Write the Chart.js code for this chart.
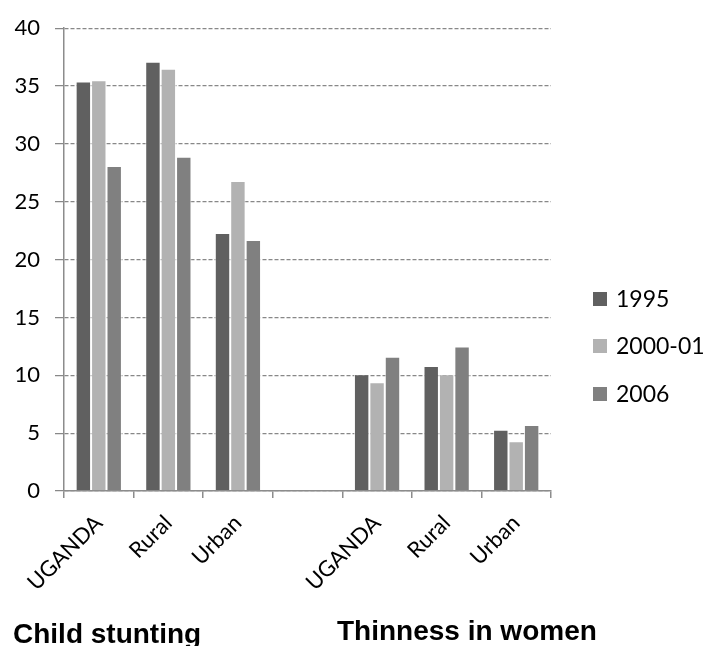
<!DOCTYPE html>
<html>
<head>
<meta charset="utf-8">
<script src="https://cdn.jsdelivr.net/npm/chart.js@4/dist/chart.umd.min.js"></script>
<style>
  html, body { margin: 0; padding: 0; background: #ffffff; }
  #wrap { width: 704px; height: 646px; }
</style>
</head>
<body>
<div id="wrap"><canvas id="chart" width="704" height="646"></canvas></div>
<script>
// Categories: two indicator groups separated by an empty slot
const categories = ['UGANDA', 'Rural', 'Urban', '', 'UGANDA', 'Rural', 'Urban'];
const seriesNames = ['1995', '2000-01', '2006'];
const values1995 = [35.4, 37.1, 22.3, null, 10.1, 10.8, 5.3];
const values2000 = [35.5, 36.5, 26.8, null, 9.4, 10.1, 4.3];
const values2006 = [28.1, 28.9, 21.7, null, 11.6, 12.5, 5.7];
const groupTitles = ['Child stunting', 'Thinness in women'];
const yMin = 0, yMax = 40, yStep = 5;

const seriesColors = ['#606060', '#b2b2b2', '#808080'];
const labelFont = 'Lato';

// Legend on the right and the two group captions under the axis
const decorations = {
  id: 'decorations',
  afterDraw(chart) {
    const ctx = chart.ctx;
    ctx.save();
    const rows = [299, 346, 394];
    chart.data.datasets.forEach((ds, i) => {
      ctx.fillStyle = ds.backgroundColor;
      ctx.fillRect(593, rows[i] - 7, 14, 14);
      ctx.fillStyle = '#000000';
      ctx.font = '23px ' + labelFont;
      ctx.textAlign = 'left';
      ctx.textBaseline = 'middle';
      ctx.fillText(ds.label, 616, rows[i] + 1);
    });
    ctx.font = 'bold 28px "Liberation Sans", Arial, sans-serif';
    ctx.textBaseline = 'alphabetic';
    ctx.fillText(groupTitles[0], 13, 643);
    ctx.fillText(groupTitles[1], 337, 640);
    ctx.restore();
  }
};

const datasets = [values1995, values2000, values2006].map((vals, i) => ({
  label: seriesNames[i],
  data: vals,
  backgroundColor: seriesColors[i],
  borderColor: 'rgba(255,255,255,0.7)',
  borderWidth: { top: 1, left: 1, right: 1, bottom: 0 },
  categoryPercentage: 0.665,
  barPercentage: 1.0
}));

new Chart(document.getElementById('chart'), {
  type: 'bar',
  data: { labels: categories, datasets },
  plugins: [decorations],
  options: {
    responsive: false,
    animation: false,
    layout: { padding: { top: 25, right: 153, left: 0, bottom: 0 } },
    plugins: { legend: { display: false }, tooltip: { enabled: false } },
    scales: {
      x: {
        grid: {
          offset: true,
          drawOnChartArea: false,
          drawTicks: true,
          tickLength: 7,
          color: '#8c8c8c',
          lineWidth: 1.5
        },
        border: { color: '#8c8c8c', width: 1.5, z: 1 },
        ticks: {
          autoSkip: false,
          minRotation: 45,
          maxRotation: 45,
          padding: 12,
          color: '#000000',
          font: { family: labelFont, size: 22 }
        },
        afterFit(scale) { scale.height = 155; }
      },
      y: {
        min: yMin,
        max: yMax,
        ticks: {
          stepSize: yStep,
          padding: 15,
          color: '#000000',
          font: { family: labelFont, size: 22 }
        },
        grid: {
          color: '#888888',
          lineWidth: 1.25,
          tickLength: 9,
          tickBorderDash: []
        },
        border: { display: true, color: '#8c8c8c', width: 1.5, dash: [4, 2] },
        afterFit(scale) { scale.width = 64; }
      }
    }
  }
});
</script>
</body>
</html>
